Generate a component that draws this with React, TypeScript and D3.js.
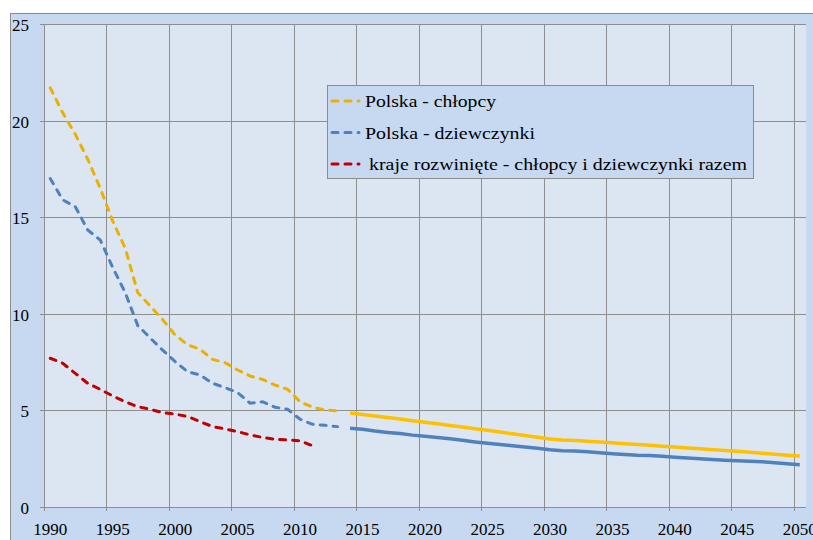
import React from "react";
import * as d3 from "d3";

// ---- data ----
const allYears: number[] = d3.range(1990, 2051);
const histYears: number[] = d3.range(1990, 2014);
const redYears: number[] = d3.range(1990, 2012);
const projYears: number[] = d3.range(2014, 2051);

const boysHist = [21.7, 20.4, 19.3, 18.0, 16.5, 14.8, 13.4, 11.1, 10.4, 9.7, 8.9, 8.4, 8.16, 7.64, 7.47, 7.09, 6.78, 6.6, 6.31, 6.09, 5.45, 5.16, 5.02, 4.98];
const girlsHist = [17.0, 15.9, 15.55, 14.34, 13.82, 12.4, 11.1, 9.4, 8.75, 8.12, 7.52, 7.0, 6.83, 6.4, 6.18, 5.92, 5.37, 5.45, 5.16, 5.06, 4.54, 4.28, 4.23, 4.16];
const developed = [7.7, 7.44, 6.92, 6.4, 6.09, 5.75, 5.45, 5.19, 5.06, 4.88, 4.81, 4.68, 4.42, 4.16, 4.04, 3.9, 3.73, 3.6, 3.5, 3.47, 3.43, 3.17];
const boysProj = [4.86, 4.79, 4.71, 4.63, 4.55, 4.47, 4.39, 4.31, 4.22, 4.14, 4.05, 3.97, 3.88, 3.79, 3.7, 3.61, 3.52, 3.47, 3.44, 3.4, 3.36, 3.32, 3.28, 3.24, 3.2, 3.15, 3.11, 3.06, 3.02, 2.97, 2.93, 2.88, 2.83, 2.78, 2.73, 2.68, 2.64];
const girlsProj = [4.07, 4.02, 3.93, 3.86, 3.8, 3.72, 3.66, 3.6, 3.53, 3.45, 3.37, 3.3, 3.24, 3.17, 3.11, 3.04, 2.96, 2.91, 2.9, 2.86, 2.81, 2.76, 2.72, 2.68, 2.66, 2.63, 2.58, 2.54, 2.5, 2.46, 2.42, 2.39, 2.37, 2.34, 2.29, 2.24, 2.19];

const yTicks = [0, 5, 10, 15, 20, 25];
const xLabelYears = [1990, 1995, 2000, 2005, 2010, 2015, 2020, 2025, 2030, 2035, 2040, 2045, 2050];
const legendLabels = [
  "Polska - chłopcy",
  "Polska - dziewczynki",
  "kraje rozwinięte - chłopcy i dziewczynki razem",
];

const W = 813;
const H = 540;
const plot = { left: 44, right: 806, top: 24, bottom: 507 };

const C = {
  outer: "#c6d9f1",
  plotBg: "#dce6f2",
  grid: "#8e8e8e",
  boysDash: "#ebb000",
  boysSolid: "#ffc000",
  blue: "#4f81bd",
  red: "#c00000",
};

const FONT = "Liberation Serif, Times New Roman, serif";

export default function App() {
  const x = d3.scaleBand<number>().domain(allYears).range([plot.left, plot.right]).padding(0);
  const bw = x.bandwidth();
  const cx = (yr: number) => (x(yr) as number) + bw / 2;
  const y = d3.scaleLinear().domain([0, 25]).range([plot.bottom, plot.top]);

  const line = d3
    .line<[number, number]>()
    .x((d) => cx(d[0]))
    .y((d) => y(d[1]));

  const zip = (yrs: number[], vals: number[]) => yrs.map((yr, i) => [yr, vals[i]] as [number, number]);

  const dashed = { strokeWidth: 3, strokeDasharray: "6 7", strokeLinecap: "round" as const, fill: "none" };

  const legendColors = [C.boysDash, C.blue, C.red];
  const legendRowsY = [101, 132.5, 164];
  const legendTextX = [365, 365, 369];
  const legendTextLen = [131, 170, 378];

  return (
    <div style={{ position: "fixed", left: 0, top: 0, width: W, height: H }}>
      <svg width={W} height={H} style={{ display: "block", background: "#ffffff" }}>
        {/* outer chart area */}
        <rect x={10.5} y={13.5} width={W} height={H} fill={C.outer} stroke="#8c8c8c" strokeWidth={1} />
        {/* plot area */}
        <rect x={plot.left} y={plot.top} width={plot.right - plot.left} height={plot.bottom - plot.top} fill={C.plotBg} />
        {/* vertical gridlines + x tick marks */}
        {xLabelYears.map((yr) => (
          <line key={"vg" + yr} x1={Math.round(x(yr) as number) + 0.5} x2={Math.round(x(yr) as number) + 0.5} y1={plot.top} y2={plot.bottom + 4} stroke={C.grid} strokeWidth={1} />
        ))}
        {/* horizontal gridlines + y tick marks */}
        {yTicks.map((t) => (
          <line key={"hg" + t} x1={plot.left - 4} x2={plot.right} y1={Math.round(y(t)) + 0.5} y2={Math.round(y(t)) + 0.5} stroke={C.grid} strokeWidth={1} />
        ))}
        {/* y labels */}
        {yTicks.map((t) => (
          <text key={"yl" + t} x={29} y={y(t) + 1} dy="0.35em" textAnchor="end" fontSize={17} fill="#000" fontFamily={FONT}>
            {t}
          </text>
        ))}
        {/* x labels */}
        {xLabelYears.map((yr) => (
          <text key={"xl" + yr} x={cx(yr)} y={535} textAnchor="middle" fontSize={17} fill="#000" fontFamily={FONT}>
            {yr}
          </text>
        ))}

        {/* series */}
        <path d={line(zip(redYears, developed)) || ""} stroke={C.red} {...dashed} />
        <path d={line(zip(histYears, girlsHist)) || ""} stroke={C.blue} {...dashed} />
        <path d={line(zip(histYears, boysHist)) || ""} stroke={C.boysDash} {...dashed} />
        <path d={line(zip(projYears, girlsProj)) || ""} stroke={C.blue} strokeWidth={3.5} fill="none" strokeLinejoin="round" strokeLinecap="butt" />
        <path d={line(zip(projYears, boysProj)) || ""} stroke={C.boysSolid} strokeWidth={3.5} fill="none" strokeLinejoin="round" strokeLinecap="butt" />

        {/* legend */}
        <rect x={327.5} y={85.5} width={426} height={93} fill={C.outer} stroke="#8c8c8c" strokeWidth={1} />
        {legendLabels.map((lab, i) => (
          <g key={"lg" + i}>
            <line x1={332} x2={359} y1={legendRowsY[i]} y2={legendRowsY[i]} stroke={legendColors[i]} {...dashed} />
            <text
              x={legendTextX[i]}
              y={legendRowsY[i] + 6}
              fontSize={17}
              fill="#000"
              fontFamily={FONT}
              textLength={legendTextLen[i]}
              lengthAdjust="spacingAndGlyphs"
            >
              {lab}
            </text>
          </g>
        ))}
      </svg>
    </div>
  );
}
